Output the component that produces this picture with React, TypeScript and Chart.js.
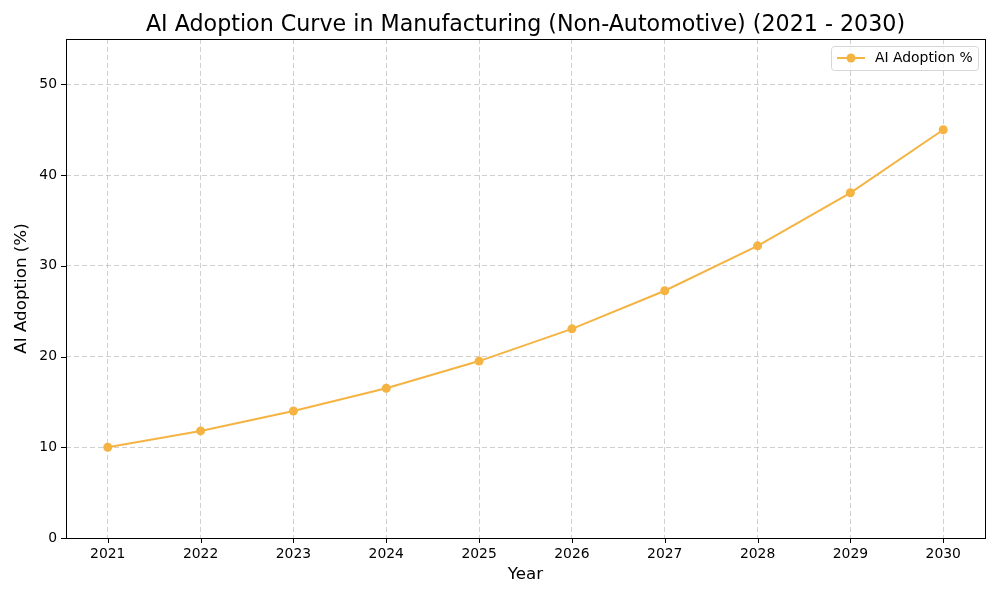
import React, { useEffect, useRef } from 'react';
import { Chart, registerables } from 'chart.js';

Chart.register(...registerables);

const years = [2021, 2022, 2023, 2024, 2025, 2026, 2027, 2028, 2029, 2030];
const adoption = [10, 11.8, 14, 16.5, 19.5, 23.05, 27.25, 32.2, 38.05, 45];
const yTicks = [0, 10, 20, 30, 40, 50];

const LINE_COLOR = '#f5b342';
const FONT = "'DejaVu Sans', sans-serif";

// frame, title, black tick marks and legend box, drawn like matplotlib
const decorPlugin = {
  id: 'decor',
  afterDraw(chart: any) {
    const { ctx, chartArea: a, scales } = chart;
    ctx.save();
    ctx.strokeStyle = '#000';
    ctx.lineWidth = 1;
    ctx.strokeRect(Math.round(a.left) + 0.5, Math.round(a.top) + 0.5, Math.round(a.right - a.left), Math.round(a.bottom - a.top));

    // tick marks
    ctx.beginPath();
    years.forEach((yr) => {
      const x = Math.round(scales.x.getPixelForValue(yr)) + 0.5;
      ctx.moveTo(x, a.bottom);
      ctx.lineTo(x, a.bottom + 5);
    });
    yTicks.forEach((v) => {
      const y = Math.round(scales.y.getPixelForValue(v)) + 0.5;
      ctx.moveTo(a.left, y);
      ctx.lineTo(a.left - 5, y);
    });
    ctx.stroke();

    // title
    ctx.fillStyle = '#000';
    ctx.font = `22.2px ${FONT}`;
    ctx.textAlign = 'center';
    ctx.textBaseline = 'middle';
    ctx.fillText('AI Adoption Curve in Manufacturing (Non-Automotive) (2021 - 2030)', (a.left + a.right) / 2, 25);

    // legend
    const lx = a.right - 154, ly = a.top + 7, lw = 147, lh = 24;
    ctx.fillStyle = 'rgba(255,255,255,0.8)';
    ctx.strokeStyle = '#d6d6d6';
    ctx.beginPath();
    ctx.roundRect(lx + 0.5, ly + 0.5, lw, lh, 3);
    ctx.fill();
    ctx.stroke();
    ctx.strokeStyle = LINE_COLOR;
    ctx.lineWidth = 2;
    ctx.beginPath();
    ctx.moveTo(lx + 6, ly + 12);
    ctx.lineTo(lx + 34, ly + 12);
    ctx.stroke();
    ctx.fillStyle = LINE_COLOR;
    ctx.beginPath();
    ctx.arc(lx + 20, ly + 12, 4.5, 0, Math.PI * 2);
    ctx.fill();
    ctx.fillStyle = '#000';
    ctx.font = `13.9px ${FONT}`;
    ctx.textAlign = 'left';
    ctx.fillText('AI Adoption %', lx + 44, ly + 12.5);
    ctx.restore();
  },
};

const App: React.FC = () => {
  const canvasRef = useRef<HTMLCanvasElement>(null);

  useEffect(() => {
    document.body.style.margin = '0';
    if (!canvasRef.current) return;
    const gridColor = 'rgba(176,176,176,0.6)';
    const chart = new Chart(canvasRef.current, {
      type: 'line',
      data: {
        datasets: [
          {
            label: 'AI Adoption %',
            data: years.map((yr, i) => ({ x: yr, y: adoption[i] })),
            borderColor: LINE_COLOR,
            backgroundColor: LINE_COLOR,
            borderWidth: 2,
            pointRadius: 4.5,
            pointHoverRadius: 4.5,
            pointBorderWidth: 0,
            tension: 0,
          },
        ],
      },
      options: {
        responsive: false,
        animation: false,
        layout: { padding: { top: 39, right: 15, left: 0, bottom: 0 } },
        plugins: { legend: { display: false }, tooltip: { enabled: false } },
        scales: {
          x: {
            type: 'linear',
            min: 2020.55,
            max: 2030.45,
            afterBuildTicks: (s: any) => {
              s.ticks = years.map((v) => ({ value: v }));
            },
            afterFit: (s: any) => {
              s.height = 62;
            },
            grid: { color: gridColor, drawTicks: false },
            border: { display: false, dash: [5, 3] },
            ticks: {
              color: '#000',
              font: { family: FONT, size: 13.9 },
              padding: 8,
              maxRotation: 0,
              callback: (v: any) => String(v),
            },
            title: {
              display: true,
              text: 'Year',
              color: '#000',
              font: { family: FONT, size: 16.7 },
              padding: { top: 4, bottom: 15 },
            },
          },
          y: {
            min: 0,
            max: 55,
            afterBuildTicks: (s: any) => {
              s.ticks = yTicks.map((v) => ({ value: v }));
            },
            afterFit: (s: any) => {
              s.width = 66;
            },
            grid: { color: gridColor, drawTicks: false },
            border: { display: false, dash: [5, 3] },
            ticks: {
              color: '#000',
              font: { family: FONT, size: 13.9 },
              padding: 9,
            },
            title: {
              display: true,
              text: 'AI Adoption (%)',
              color: '#000',
              font: { family: FONT, size: 16.7 },
              padding: { top: 12, bottom: 4 },
            },
          },
        },
      },
      plugins: [decorPlugin],
    });
    return () => chart.destroy();
  }, []);

  return (
    <div style={{ width: 1000, height: 600 }}>
      <canvas ref={canvasRef} width={1000} height={600} />
    </div>
  );
};

export default App;
